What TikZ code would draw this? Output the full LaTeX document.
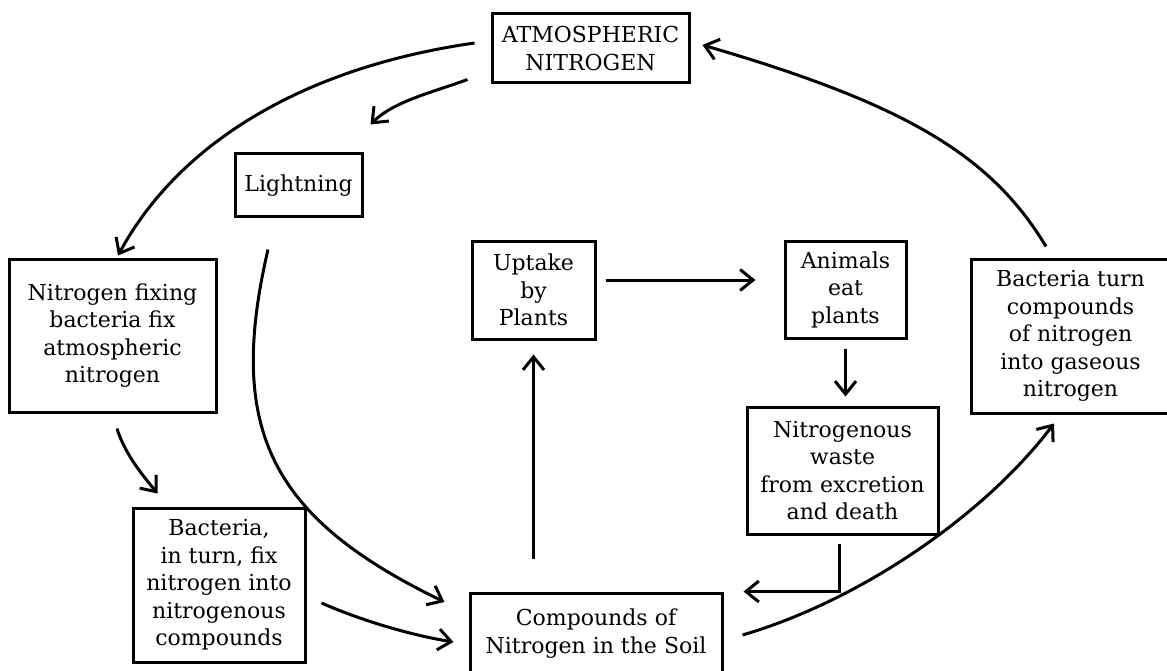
\documentclass[tikz,border=0pt]{standalone}
\usepackage{fontspec}
\setmainfont{DejaVu Serif}
\usetikzlibrary{arrows.meta,calc}

\begin{document}
\begin{tikzpicture}[x=1pt,y=-1pt,->,>={Straight Barb[length=13pt,width=21pt]},
  line width=3pt,
  box node/.style={draw,rectangle,align=center,inner sep=0pt,
    font=\fontsize{22pt}{27.5pt}\selectfont}]
  \useasboundingbox (0,0) rectangle (1167,671);

  \node[box node,minimum width=197pt,minimum height=69pt] (atmo) at (590.5,48.5) {ATMOSPHERIC\\NITROGEN};
  \node[box node,minimum width=127pt,minimum height=63pt] (light) at (298.5,185.5) {Lightning};
  \node[box node,minimum width=207pt,minimum height=153pt] (fix) at (112.5,335.5) {Nitrogen fixing\\bacteria fix\\atmospheric\\nitrogen};
  \node[box node,minimum width=123pt,minimum height=98pt] (uptake) at (533.5,290) {Uptake\\by\\Plants};
  \node[box node,minimum width=121pt,minimum height=97pt] (animals) at (845.5,289.5) {Animals\\eat\\plants};
  \node[box node,minimum width=199pt,minimum height=154pt] (gas) at (1070.5,336) {Bacteria turn\\compounds\\of nitrogen\\into gaseous\\nitrogen};
  \node[box node,minimum width=191pt,minimum height=127pt] (waste) at (842.5,470.5) {Nitrogenous\\waste\\from excretion\\and death};
  \node[box node,minimum width=172pt,minimum height=154pt] (turn) at (219,585) {Bacteria,\\in turn, fix\\nitrogen into\\nitrogenous\\compounds};
  \node[box node,minimum width=252pt,minimum height=81pt] (soil) at (596,633.5) {Compounds of\\Nitrogen in the Soil};

  \draw ($(atmo.west)+(-16,-5.5)$) .. controls (300,68) and (178,145) .. ($(fix.north)+(5.5,-2)$);
  \draw ($(atmo.south west)+(-23,-5)$) .. controls (434,92) and (394,101) .. ($(light.north east)+(7,-28)$);
  \draw ($(light.south)+(-30.5,31)$) .. controls (226,430) and (271,518) .. ($(soil.west)+(-24,-31.5)$);
  \draw ($(fix.south)+(4.5,15)$) .. controls (125,455) and (145,478) .. ($(turn.north west)+(26,-13)$);
  \draw ($(turn.east)+(15,18)$) .. controls (360,620) and (410,635) .. ($(soil.west)+(-15,8.5)$);
  \draw[shorten <=33pt,shorten >=14pt] (uptake.south |- soil.north) -- (uptake.south);
  \draw[shorten <=9pt,shorten >=28pt] ([yshift=10pt]uptake.east) -- ([yshift=10pt]uptake.east -| animals.west);
  \draw[shorten <=9pt,shorten >=9pt] (animals.south) -- (animals.south |- waste.north);
  \draw[shorten <=8pt,shorten >=20pt] ([xshift=-3pt]waste.south) |- (soil.north east);
  \draw ($(soil.east)+(19,1.5)$) .. controls (859,601) and (984,516) .. ($(gas.south)+(-16.5,9)$);
  \draw ($(gas.north)+(-24.5,-11)$) .. controls (991,155) and (905,104) .. ($(atmo.east)+(12,-3.5)$);
\end{tikzpicture}
\end{document}
